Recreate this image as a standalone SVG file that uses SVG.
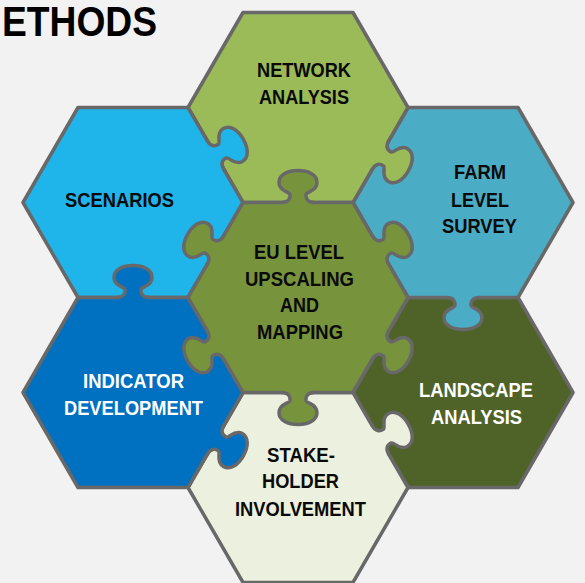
<svg xmlns="http://www.w3.org/2000/svg" xmlns:xlink="http://www.w3.org/1999/xlink" width="585" height="583" viewBox="0 0 585 583">
<style>
.hex{stroke:#686868;stroke-width:3.5;stroke-linejoin:round}
.kl{fill:none;stroke:#686868;stroke-width:3.5;stroke-linecap:round;stroke-linejoin:round}
.t{font-family:"Liberation Sans",Arial,sans-serif;font-weight:bold;font-size:21px;text-anchor:middle}
.dk{fill:#0a0a0a}
.wh{fill:#fff}
</style>
<defs>
<path id="kf" d="M -16,-2.5 L -16,0 C -10,0 -7.5,3.5 -8,8 C -8.5,11 -19,11 -19,20 C -19,28 -10,32 0,32 C 10,32 19,28 19,20 C 19,11 8.5,11 8,8 C 7.5,3.5 10,0 16,0 L 16,-2.5 Z"/>
<path id="kl" d="M -16,0 C -10,0 -7.5,3.5 -8,8 C -8.5,11 -19,11 -19,20 C -19,28 -10,32 0,32 C 10,32 19,28 19,20 C 19,11 8.5,11 8,8 C 7.5,3.5 10,0 16,0"/>
</defs>
<rect x="0" y="0" width="585" height="583" fill="#f2f2f2"/>
<text x="2" y="36" font-family="'Liberation Sans',Arial,sans-serif" font-weight="bold" font-size="43" textLength="155" lengthAdjust="spacingAndGlyphs" fill="#000">ETHODS</text>

<g id="landscape">
<polygon class="hex" fill="#4f6228" points="353,392.5 408,297.5 518,297.5 573,392.5 518,487.5 408,487.5"/>
<text class="t wh" x="476" y="397" textLength="114" lengthAdjust="spacingAndGlyphs">LANDSCAPE</text>
<text class="t wh" x="476.5" y="424" textLength="91" lengthAdjust="spacingAndGlyphs">ANALYSIS</text>
</g>

<g id="farm-level-survey">
<polygon class="hex" fill="#4bacc6" points="353,202.5 408,107.5 518,107.5 573,202.5 518,297.5 408,297.5"/>
<g transform="translate(463,297.5) rotate(0)"><use xlink:href="#kf" fill="#4bacc6"/><use xlink:href="#kl" class="kl"/></g>
<text class="t dk" x="480" y="179" textLength="52" lengthAdjust="spacingAndGlyphs">FARM</text>
<text class="t dk" x="480" y="207" textLength="58" lengthAdjust="spacingAndGlyphs">LEVEL</text>
<text class="t dk" x="479.5" y="233" textLength="75" lengthAdjust="spacingAndGlyphs">SURVEY</text>
</g>

<g id="network-analysis">
<polygon class="hex" fill="#9bbb59" points="188,107.5 243,12.5 353,12.5 408,107.5 353,202.5 243,202.5"/>
<g transform="translate(380.5,155) rotate(-60)"><use xlink:href="#kf" fill="#9bbb59"/><use xlink:href="#kl" class="kl"/></g>
<text class="t dk" x="304" y="77" textLength="94" lengthAdjust="spacingAndGlyphs">NETWORK</text>
<text class="t dk" x="304" y="104" textLength="90" lengthAdjust="spacingAndGlyphs">ANALYSIS</text>
</g>

<g id="scenarios">
<polygon class="hex" fill="#1fb4ea" points="23,202.5 78,107.5 188,107.5 243,202.5 188,297.5 78,297.5"/>
<g transform="translate(215.5,155) rotate(-120)"><use xlink:href="#kf" fill="#1fb4ea"/><use xlink:href="#kl" class="kl"/></g>
<text class="t dk" x="119.5" y="207" textLength="109" lengthAdjust="spacingAndGlyphs">SCENARIOS</text>
</g>

<g id="stakeholder-involvement">
<polygon class="hex" fill="#ebf1de" points="188,487.5 243,392.5 353,392.5 408,487.5 353,582.5 243,582.5"/>
<g transform="translate(380.5,440) rotate(-120)"><use xlink:href="#kf" fill="#ebf1de"/><use xlink:href="#kl" class="kl"/></g>
<text class="t dk" x="301" y="462" textLength="68" lengthAdjust="spacingAndGlyphs">STAKE-</text>
<text class="t dk" x="300.5" y="488" textLength="77" lengthAdjust="spacingAndGlyphs">HOLDER</text>
<text class="t dk" x="300.5" y="516" textLength="131" lengthAdjust="spacingAndGlyphs">INVOLVEMENT</text>
</g>

<g id="indicator-development">
<polygon class="hex" fill="#0070c0" points="23,392.5 78,297.5 188,297.5 243,392.5 188,487.5 78,487.5"/>
<g transform="translate(133,297.5) rotate(180)"><use xlink:href="#kf" fill="#0070c0"/><use xlink:href="#kl" class="kl"/></g>
<g transform="translate(215.5,440) rotate(-60)"><use xlink:href="#kf" fill="#0070c0"/><use xlink:href="#kl" class="kl"/></g>
<text class="t wh" x="133.5" y="388" textLength="101" lengthAdjust="spacingAndGlyphs">INDICATOR</text>
<text class="t wh" x="133.5" y="415" textLength="139" lengthAdjust="spacingAndGlyphs">DEVELOPMENT</text>
</g>

<g id="eu-level-upscaling">
<polygon class="hex" fill="#77933c" points="188,297.5 243,202.5 353,202.5 408,297.5 353,392.5 243,392.5"/>
<g transform="translate(298,202.5) rotate(180)"><use xlink:href="#kf" fill="#77933c"/><use xlink:href="#kl" class="kl"/></g>
<g transform="translate(215.5,250) rotate(120)"><use xlink:href="#kf" fill="#77933c"/><use xlink:href="#kl" class="kl"/></g>
<g transform="translate(380.5,250) rotate(-120)"><use xlink:href="#kf" fill="#77933c"/><use xlink:href="#kl" class="kl"/></g>
<g transform="translate(215.5,345) rotate(60)"><use xlink:href="#kf" fill="#77933c"/><use xlink:href="#kl" class="kl"/></g>
<g transform="translate(380.5,345) rotate(-60)"><use xlink:href="#kf" fill="#77933c"/><use xlink:href="#kl" class="kl"/></g>
<g transform="translate(298,392.5) rotate(0)"><use xlink:href="#kf" fill="#77933c"/><use xlink:href="#kl" class="kl"/></g>
<text class="t dk" x="299" y="259" textLength="90" lengthAdjust="spacingAndGlyphs">EU LEVEL</text>
<text class="t dk" x="299.5" y="286" textLength="109" lengthAdjust="spacingAndGlyphs">UPSCALING</text>
<text class="t dk" x="299.5" y="312" textLength="39" lengthAdjust="spacingAndGlyphs">AND</text>
<text class="t dk" x="300" y="339" textLength="86" lengthAdjust="spacingAndGlyphs">MAPPING</text>
</g>
</svg>
